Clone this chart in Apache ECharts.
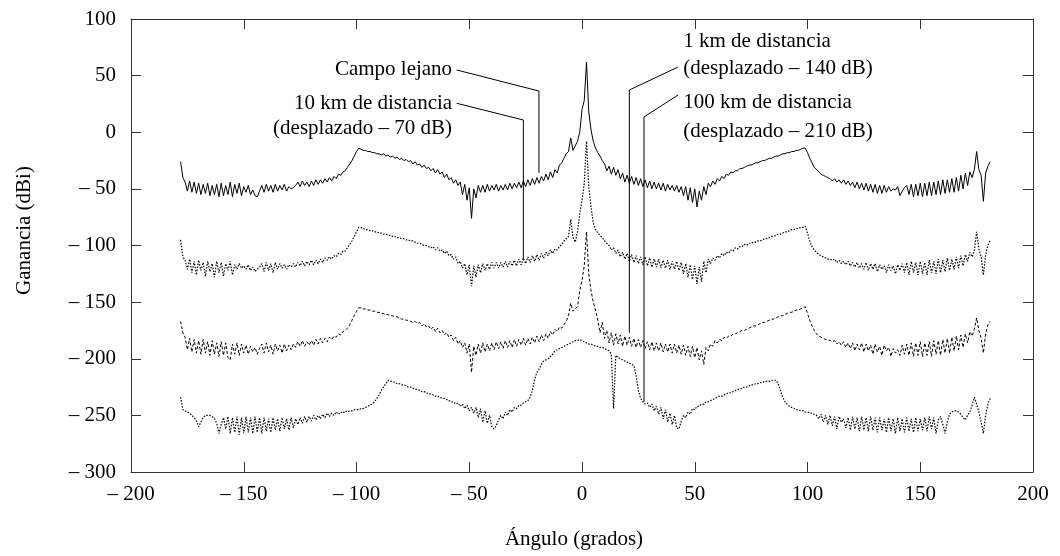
<!DOCTYPE html>
<html>
<head>
<meta charset="utf-8">
<title>Ganancia frente a ángulo</title>
<script src="https://cdn.jsdelivr.net/npm/echarts/dist/echarts.min.js"></script>
<style>
  html, body { margin: 0; padding: 0; background: #fff; }
  #chart { width: 1060px; height: 556px; }
</style>
</head>
<body>
<div id="chart"></div>
<script>
// angles run from -178 deg in 1 deg steps (360 samples per curve)
var angleStart = -178;

// far field, dBi
var campoLejano = [
  -26,-40,-44,-52,-43,-53,-44,-54,-45,-55,
  -46,-54,-45,-56,-47,-55,-46,-57,-45,-56,
  -47,-55,-44,-57,-46,-54,-45,-56,-48,-53,
  -47,-55,-51,-56,-57,-52,-47,-53,-46,-52,
  -47,-53,-46,-52,-47,-51,-46,-52,-48,-50,
  -49,-47,-44,-48,-43,-47,-44,-48,-43,-47,
  -42,-46,-42,-45,-41,-44,-40,-43,-39,-41,
  -37,-38,-35,-34,-31,-28,-25,-21,-17,-14,
  -15,-16,-16,-17,-17,-18,-18,-19,-19,-20,
  -19,-21,-20,-22,-21,-23,-22,-24,-23,-25,
  -24,-26,-25,-28,-26,-29,-28,-31,-29,-32,
  -31,-34,-32,-36,-33,-37,-35,-40,-37,-42,
  -40,-45,-42,-47,-44,-55,-46,-60,-49,-76,
  -50,-58,-47,-53,-47,-53,-46,-52,-47,-51,
  -46,-52,-47,-51,-46,-51,-45,-50,-45,-49,
  -44,-49,-43,-48,-42,-47,-41,-46,-40,-45,
  -39,-43,-37,-42,-35,-40,-33,-36,-29,-27,
  -23,-19,-17,-5,-16,-12,-8,0,20,28,
  62,18,2,-8,-14,-18,-21,-25,-28,-34,
  -30,-37,-31,-38,-33,-41,-36,-44,-38,-45,
  -39,-46,-40,-47,-41,-48,-42,-49,-43,-50,
  -44,-50,-45,-51,-45,-52,-46,-51,-47,-52,
  -47,-53,-48,-56,-48,-60,-49,-62,-50,-66,
  -52,-60,-48,-55,-45,-48,-43,-46,-41,-43,
  -39,-41,-37,-38,-35,-36,-34,-34,-32,-32,
  -31,-30,-29,-29,-28,-27,-27,-26,-25,-25,
  -24,-23,-23,-22,-21,-21,-20,-19,-19,-18,
  -18,-17,-17,-16,-16,-15,-14,-14,-18,-23,
  -27,-31,-33,-35,-37,-38,-39,-40,-41,-43,
  -41,-44,-42,-45,-42,-46,-43,-47,-44,-49,
  -44,-50,-45,-51,-45,-52,-46,-53,-46,-54,
  -47,-54,-47,-53,-48,-52,-50,-51,-48,-56,
  -52,-49,-47,-55,-46,-57,-46,-56,-45,-57,
  -45,-56,-44,-56,-44,-55,-43,-55,-42,-54,
  -42,-53,-41,-53,-40,-52,-38,-50,-36,-47,
  -35,-40,-33,-17,-33,-38,-61,-36,-30,-26
];

// 10 km, already shifted by -70 dB
var dist10km = [
  -95,-110,-113,-121,-112,-124,-114,-126,-113,-122,
  -115,-127,-114,-123,-116,-128,-114,-124,-115,-127,
  -116,-122,-114,-126,-117,-121,-116,-120,-118,-121,
  -117,-122,-119,-123,-121,-119,-116,-123,-115,-122,
  -116,-124,-115,-121,-116,-120,-117,-121,-117,-119,
  -116,-119,-115,-118,-114,-118,-114,-117,-113,-117,
  -113,-116,-112,-115,-111,-113,-110,-112,-109,-110,
  -107,-108,-105,-105,-102,-99,-96,-92,-88,-84,
  -84,-85,-86,-86,-87,-87,-88,-88,-89,-89,
  -90,-90,-91,-91,-92,-92,-93,-93,-94,-94,
  -95,-95,-96,-96,-97,-98,-98,-99,-100,-100,
  -101,-102,-101,-104,-102,-105,-104,-107,-105,-109,
  -108,-112,-110,-116,-114,-120,-116,-126,-117,-136,
  -118,-128,-117,-124,-116,-122,-116,-121,-115,-120,
  -115,-120,-115,-119,-114,-119,-114,-118,-113,-118,
  -112,-117,-111,-116,-110,-115,-109,-114,-108,-113,
  -107,-111,-106,-109,-104,-107,-103,-104,-101,-99,
  -96,-94,-92,-77,-93,-97,-88,-72,-60,-45,
  -8,-48,-66,-80,-86,-89,-91,-93,-96,-98,
  -100,-104,-102,-107,-104,-110,-106,-112,-107,-114,
  -108,-115,-109,-116,-110,-117,-110,-118,-111,-119,
  -112,-119,-112,-120,-113,-120,-113,-121,-114,-121,
  -114,-122,-115,-125,-116,-128,-117,-130,-118,-134,
  -119,-132,-114,-124,-112,-116,-111,-113,-109,-111,
  -107,-109,-106,-107,-104,-105,-102,-103,-101,-101,
  -99,-100,-98,-98,-97,-97,-96,-96,-95,-94,
  -94,-93,-92,-92,-91,-90,-90,-89,-88,-88,
  -87,-86,-86,-85,-85,-84,-84,-83,-89,-96,
  -101,-104,-106,-108,-109,-110,-111,-112,-112,-113,
  -112,-115,-113,-116,-114,-117,-114,-118,-115,-119,
  -115,-120,-116,-121,-115,-122,-116,-121,-116,-123,
  -117,-121,-118,-124,-117,-122,-118,-125,-117,-122,
  -116,-124,-115,-126,-114,-124,-115,-126,-114,-125,
  -115,-126,-113,-124,-114,-125,-112,-124,-113,-123,
  -111,-122,-112,-121,-110,-120,-109,-118,-108,-114,
  -106,-110,-104,-88,-103,-110,-126,-108,-100,-95
];

// 1 km, shifted by -140 dB
var dist1km = [
  -167,-177,-181,-192,-182,-194,-183,-195,-184,-196,
  -183,-195,-185,-197,-184,-196,-186,-198,-185,-197,
  -186,-199,-201,-187,-196,-186,-197,-187,-195,-188,
  -196,-189,-194,-190,-196,-191,-187,-195,-186,-194,
  -188,-196,-187,-193,-188,-195,-187,-193,-188,-192,
  -187,-190,-185,-189,-184,-189,-185,-188,-184,-188,
  -183,-187,-182,-186,-182,-185,-181,-183,-180,-181,
  -178,-179,-176,-175,-173,-170,-166,-162,-158,-155,
  -155,-156,-156,-157,-157,-158,-158,-159,-159,-160,
  -160,-161,-161,-162,-162,-163,-163,-164,-165,-165,
  -166,-166,-167,-168,-167,-169,-168,-171,-169,-172,
  -171,-174,-172,-176,-173,-177,-175,-179,-177,-181,
  -179,-184,-181,-187,-184,-190,-186,-195,-187,-212,
  -189,-197,-187,-195,-186,-194,-187,-193,-186,-192,
  -185,-191,-185,-191,-184,-190,-184,-190,-183,-189,
  -183,-188,-182,-188,-182,-187,-181,-186,-180,-185,
  -179,-184,-178,-182,-176,-179,-174,-176,-172,-173,
  -170,-167,-162,-151,-158,-156,-154,-140,-131,-118,
  -88,-125,-140,-150,-157,-166,-177,-168,-182,-175,
  -186,-177,-188,-178,-187,-179,-189,-180,-188,-181,
  -189,-182,-190,-183,-190,-184,-191,-185,-192,-185,
  -193,-186,-193,-186,-194,-187,-194,-187,-195,-187,
  -195,-188,-196,-188,-197,-189,-198,-189,-199,-190,
  -201,-193,-205,-190,-193,-187,-189,-184,-186,-183,
  -184,-181,-182,-180,-180,-178,-178,-177,-176,-175,
  -175,-174,-173,-172,-171,-171,-170,-169,-168,-168,
  -167,-166,-165,-165,-164,-163,-162,-162,-161,-160,
  -159,-159,-158,-157,-157,-156,-155,-154,-160,-166,
  -171,-175,-178,-180,-181,-182,-183,-183,-184,-185,
  -184,-187,-185,-188,-185,-190,-186,-191,-186,-193,
  -187,-192,-186,-194,-187,-193,-188,-196,-187,-194,
  -189,-197,-188,-193,-190,-198,-191,-195,-192,-197,
  -188,-196,-187,-197,-186,-198,-186,-197,-185,-198,
  -186,-197,-185,-198,-184,-196,-184,-197,-183,-195,
  -182,-195,-181,-193,-180,-192,-179,-190,-178,-186,
  -176,-180,-174,-164,-175,-182,-195,-178,-170,-167
];

// 100 km, shifted by -210 dB
var dist100km = [
  -234,-245,-246,-247,-248,-250,-252,-255,-260,-256,
  -252,-250,-250,-250,-251,-253,-257,-266,-258,-252,
  -262,-251,-266,-252,-265,-251,-267,-252,-266,-251,
  -265,-252,-266,-251,-265,-252,-266,-252,-264,-253,
  -265,-252,-263,-253,-264,-252,-262,-253,-263,-252,
  -261,-253,-258,-252,-257,-251,-256,-251,-255,-250,
  -254,-250,-253,-249,-252,-248,-251,-248,-250,-247,
  -249,-247,-248,-246,-247,-246,-246,-245,-245,-245,
  -244,-244,-243,-242,-241,-240,-238,-235,-232,-228,
  -225,-222,-219,-220,-220,-221,-222,-222,-223,-223,
  -224,-225,-225,-226,-227,-227,-228,-229,-229,-230,
  -231,-231,-232,-233,-233,-234,-235,-235,-236,-237,
  -238,-238,-240,-239,-242,-240,-244,-241,-246,-243,
  -248,-243,-252,-244,-256,-246,-257,-250,-260,-262,
  -259,-254,-250,-253,-247,-250,-245,-247,-243,-244,
  -241,-241,-239,-238,-237,-234,-228,-218,-212,-209,
  -205,-202,-201,-200,-198,-196,-193,-192,-191,-190,
  -189,-188,-187,-186,-185,-184,-184,-183,-184,-185,
  -186,-187,-187,-188,-189,-189,-190,-190,-191,-192,
  -193,-196,-244,-197,-199,-200,-201,-202,-203,-204,
  -205,-206,-215,-228,-235,-238,-240,-239,-243,-240,
  -246,-242,-249,-243,-253,-245,-256,-248,-258,-250,
  -261,-262,-255,-250,-252,-247,-249,-244,-245,-242,
  -242,-240,-240,-238,-238,-237,-236,-235,-234,-233,
  -233,-232,-231,-230,-230,-229,-228,-227,-227,-226,
  -225,-225,-224,-223,-223,-222,-222,-221,-221,-220,
  -220,-220,-219,-219,-219,-222,-228,-234,-238,-240,
  -242,-243,-244,-245,-245,-246,-246,-247,-247,-248,
  -248,-249,-250,-253,-249,-256,-250,-258,-250,-259,
  -251,-262,-251,-256,-253,-261,-252,-263,-251,-262,
  -252,-264,-251,-263,-252,-264,-251,-263,-252,-265,
  -252,-263,-253,-265,-252,-264,-253,-266,-252,-264,
  -253,-265,-252,-264,-253,-265,-252,-264,-253,-263,
  -252,-264,-251,-262,-252,-266,-254,-251,-258,-266,
  -256,-249,-247,-246,-246,-247,-249,-252,-254,-250,
  -247,-241,-234,-240,-247,-256,-266,-250,-240,-235
];

// annotation texts and their leader lines (data coordinates)
var leftNotes = [
  {text: 'Campo lejano', at: [-57.6, 55.6]},
  {text: '10 km de distancia', at: [-57.6, 25.4]},
  {text: '(desplazado – 70 dB)', at: [-57.6, 2.9]}
];
var rightNotes = [
  {text: '1 km de distancia', at: [44.9, 80.1]},
  {text: '(desplazado – 140 dB)', at: [44.9, 56.0]},
  {text: '100 km de distancia', at: [44.9, 26.3]},
  {text: '(desplazado – 210 dB)', at: [44.9, 1.1]}
];
var leaders = [
  [[-55.6, 55], [-19.1, 36.4], [-19.1, -36]],
  [[-55.6, 25.6], [-26, 10.8], [-26, -112]],
  [[42.6, 57.6], [21, 37.3], [21, -177]],
  [[42.6, 32.9], [27.5, 13.5], [27.5, -238]]
];

var serif = '"Liberation Serif", "DejaVu Serif", serif';

function toPairs(vals) {
  return vals.map(function (v, i) {
    return [angleStart + i, v];
  });
}

function fmtTick(v) {
  return v < 0 ? '– ' + Math.abs(v) : String(v);
}

function curve(name, vals, dash, width) {
  return {
    name: name,
    type: 'line',
    data: toPairs(vals),
    symbol: 'none',
    sampling: null,
    silent: true,
    lineStyle: {color: '#000', width: width, type: dash}
  };
}

// frame pieces; the negative length turns the ticks into the plot
function frameTick() {
  return {show: true, inside: false, length: -10, lineStyle: {color: '#333', width: 1}};
}
function frameLine() {
  return {show: true, onZero: false, lineStyle: {color: '#333', width: 1}};
}

var chart = echarts.init(document.getElementById('chart'), null, {renderer: 'canvas'});

var series = [
  curve('Campo lejano', campoLejano, 'solid', 1),
  curve('10 km', dist10km, [1.5, 1.5], 1.2),
  curve('1 km', dist1km, [3, 2], 1),
  curve('100 km', dist100km, [1.5, 1.5], 1.2)
];

leaders.forEach(function (pts) {
  series.push({
    type: 'line',
    data: pts,
    symbol: 'none',
    silent: true,
    z: 5,
    lineStyle: {color: '#000', width: 1}
  });
});

chart.setOption({
  animation: false,
  backgroundColor: '#fff',
  grid: {left: 131, right: 27, top: 19, bottom: 84, containLabel: false},
  xAxis: [{
    type: 'value',
    min: -200,
    max: 200,
    interval: 50,
    position: 'bottom',
    name: 'Ángulo (grados)',
    nameLocation: 'middle',
    nameGap: 57,
    nameTextStyle: {fontFamily: serif, fontSize: 21, color: '#000', padding: [0, 16, 0, 0]},
    axisLine: frameLine(),
    axisTick: frameTick(),
    splitLine: {show: false},
    axisLabel: {fontFamily: serif, fontSize: 21, color: '#000', margin: 12, formatter: fmtTick}
  }, {
    type: 'value',
    min: -200,
    max: 200,
    interval: 50,
    position: 'top',
    axisLine: frameLine(),
    axisTick: frameTick(),
    splitLine: {show: false},
    axisLabel: {show: false}
  }],
  yAxis: [{
    type: 'value',
    min: -300,
    max: 100,
    interval: 50,
    position: 'left',
    name: 'Ganancia (dBi)',
    nameLocation: 'middle',
    nameRotate: 90,
    nameGap: 96,
    nameTextStyle: {fontFamily: serif, fontSize: 21, color: '#000', padding: [0, 0, 0, 30]},
    axisLine: frameLine(),
    axisTick: frameTick(),
    splitLine: {show: false},
    axisLabel: {fontFamily: serif, fontSize: 21, color: '#000', margin: 15, formatter: fmtTick}
  }, {
    type: 'value',
    min: -300,
    max: 100,
    interval: 50,
    position: 'right',
    axisLine: frameLine(),
    axisTick: frameTick(),
    splitLine: {show: false},
    axisLabel: {show: false}
  }],
  series: series
});

// place the annotation texts where their data anchors land
function noteText(n, align) {
  var p = chart.convertToPixel({xAxisIndex: 0, yAxisIndex: 0}, n.at);
  return {
    type: 'text',
    x: p[0],
    y: p[1],
    silent: true,
    z: 10,
    style: {
      text: n.text,
      font: '21px ' + serif,
      fill: '#000',
      align: align,
      verticalAlign: 'middle'
    }
  };
}

var graphics = [];
leftNotes.forEach(function (n) { graphics.push(noteText(n, 'right')); });
rightNotes.forEach(function (n) { graphics.push(noteText(n, 'left')); });

chart.setOption({graphic: graphics});
</script>
</body>
</html>
